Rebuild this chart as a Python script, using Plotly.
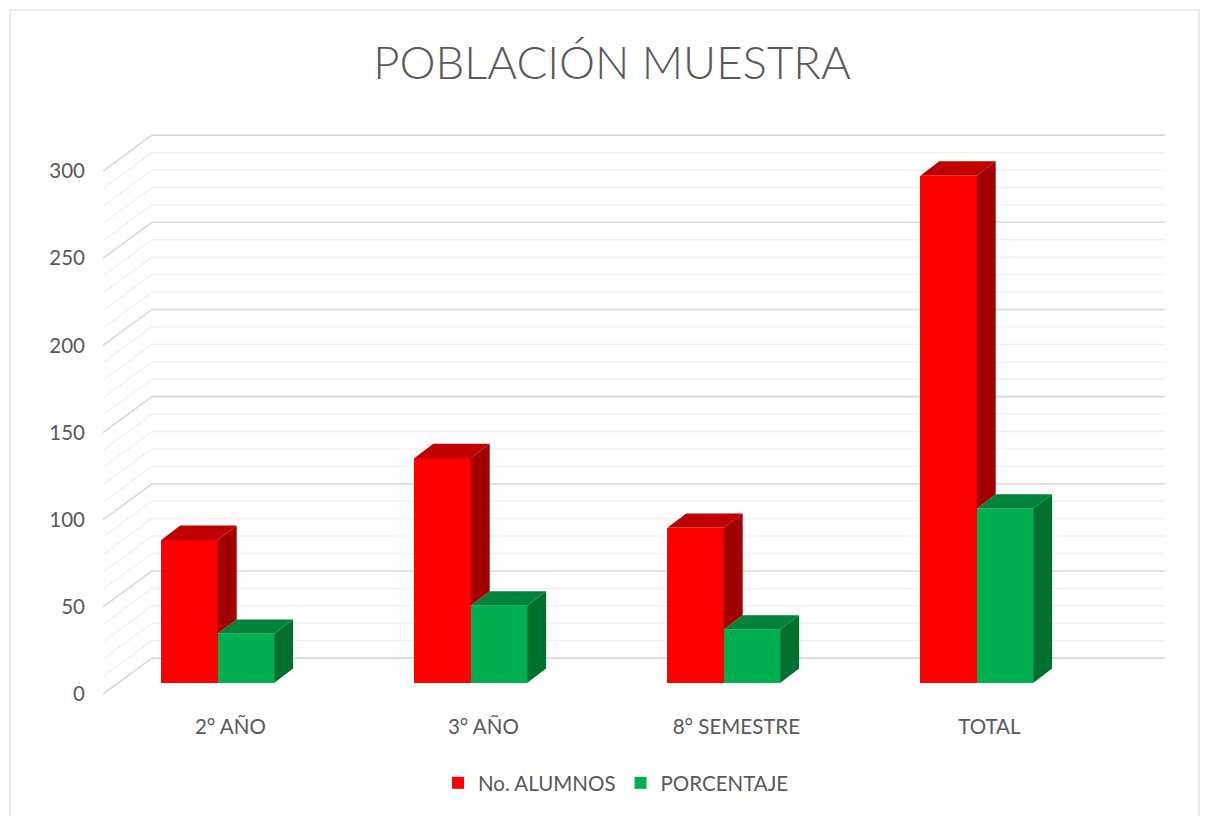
import plotly.graph_objects as go

# ---- data ----
categories = ["2° AÑO", "3° AÑO", "8° SEMESTRE", "TOTAL"]
alumnos = [82, 129, 89, 291]
porcentaje = [28.2, 44.3, 30.6, 100]
y_ticks = [0, 50, 100, 150, 200, 250, 300]

# ---- 3d look (in data units) ----
w = 0.223            # bar width
dx, dy = 0.075, 8.3  # bar depth offset
back_dx, back_dy = 0.134, 14.3    # bar plane -> back wall
front_dx, front_dy = -0.059, -6.3  # bar plane -> front edge of floor
wall_left, wall_right = -0.26, 3.744

TEXT = "#595959"
RED, RED_TOP, RED_SIDE = "#FF0000", "#C00000", "#A00000"
GRN, GRN_TOP, GRN_SIDE = "#00B050", "#00843B", "#00702F"

xs = list(range(len(categories)))
red_x = [i - w / 2 for i in xs]
grn_x = [i + w / 2 for i in xs]


def faces(centers, values, bottoms):
    tx, ty, sx, sy = [], [], [], []
    for c, v, b in zip(centers, values, bottoms):
        x0, x1 = c - w / 2, c + w / 2
        tx += [x0, x1, x1 + dx, x0 + dx, x0, None]
        ty += [v, v, v + dy, v + dy, v, None]
        sx += [x1, x1, x1 + dx, x1 + dx, x1, None]
        sy += [b, v, v + dy, b + dy, b, None]
    return tx, ty, sx, sy


fig = go.Figure()

# front faces
fig.add_bar(x=red_x, y=alumnos, width=w, name="No. ALUMNOS",
            marker=dict(color=RED, line_width=0))
fig.add_bar(x=grn_x, y=porcentaje, width=w, name="PORCENTAJE",
            marker=dict(color=GRN, line_width=0))

# top / side faces (red side hidden below green top)
for centers, vals, bottoms, ctop, cside in [
    (red_x, alumnos, porcentaje, RED_TOP, RED_SIDE),
    (grn_x, porcentaje, [0] * len(porcentaje), GRN_TOP, GRN_SIDE),
]:
    tx, ty, sx, sy = faces(centers, vals, bottoms)
    fig.add_scatter(x=sx, y=sy, fill="toself", fillcolor=cside, mode="lines",
                    line=dict(width=0, color=cside), showlegend=False, hoverinfo="skip")
    fig.add_scatter(x=tx, y=ty, fill="toself", fillcolor=ctop, mode="lines",
                    line=dict(width=0, color=ctop), showlegend=False, hoverinfo="skip")

# dummy trace to bring up the label axis
fig.add_scatter(x=[None], y=[None], yaxis="y2", showlegend=False, hoverinfo="skip")

# back wall + side wall gridlines
shapes = []
for v in range(0, 301, 10):
    major = v % 50 == 0
    col = "#D9D9D9" if major else "#F0F0F0"
    wd = 1.6 if major else 1.4
    shapes.append(dict(type="line", xref="x", yref="y", layer="below",
                       x0=wall_left, x1=wall_right, y0=v + back_dy, y1=v + back_dy,
                       line=dict(color=col, width=wd)))
    shapes.append(dict(type="line", xref="x", yref="y", layer="below",
                       x0=wall_left + front_dx - back_dx, y0=v + front_dy,
                       x1=wall_left, y1=v + back_dy,
                       line=dict(color=col, width=wd)))

# page offset of the plot div (body margin)
OFF = 8
L, T, PW, PH = 100 - OFF, 120 - OFF, 1070, 580

# chart border
shapes.append(dict(type="rect", xref="paper", yref="paper", layer="below",
                   x0=(10 - OFF - L) / PW, x1=(1199 - OFF - L) / PW,
                   y0=(T + PH - 830) / PH, y1=(T + PH - (10 - OFF)) / PH,
                   line=dict(color="#D9D9D9", width=1)))

y_range = [-9.75, 323.0]
FS = 20.5

fig.update_layout(
    width=1209, height=816,
    margin=dict(l=L, r=1209 - L - PW, t=T, b=816 - T - PH),
    paper_bgcolor="white", plot_bgcolor="white",
    barmode="overlay", bargap=0,
    font=dict(family="Lato, Carlito, Liberation Sans", color=TEXT, size=FS),
    title=dict(text="POBLACIÓN MUESTRA", x=(612 - OFF) / 1209, xanchor="center",
               y=1 - (63 - OFF) / 816, yanchor="middle",
               font=dict(family="Lato", size=45.5, color=TEXT, weight=300)),
    xaxis=dict(range=[-0.4652, 3.764], showgrid=False, zeroline=False, showline=False,
               tickmode="array", tickvals=[i + 0.05 for i in xs], ticktext=categories,
               ticks="", ticklabelstandoff=12, tickfont=dict(size=FS, color=TEXT)),
    yaxis=dict(range=y_range, showgrid=False, zeroline=False, showline=False,
               showticklabels=False, ticks=""),
    yaxis2=dict(range=[y_range[0] - front_dy, y_range[1] - front_dy], overlaying="y",
                side="left", showgrid=False, zeroline=False, showline=False,
                tickmode="array", tickvals=y_ticks, ticks="", ticklabelstandoff=14,
                tickfont=dict(size=FS, color=TEXT)),
    legend=dict(orientation="h", x=0.5 - 19 / PW, xanchor="center",
                y=-(783 - OFF - T - PH) / PH, yanchor="middle",
                font=dict(size=FS, color=TEXT), itemclick=False),
    shapes=shapes,
    showlegend=True,
)

fig.write_html("out.html")
